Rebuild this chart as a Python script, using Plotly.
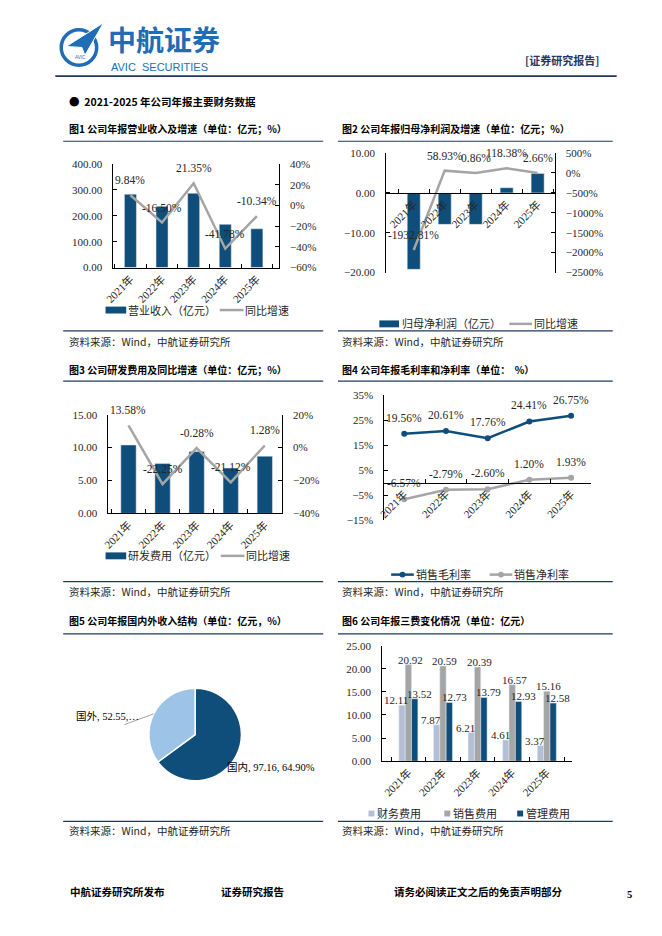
import plotly.graph_objects as go

W, H = 662, 936

# -------------------------------
# Dados
# -------------------------------
years = ["2021年", "2022年", "2023年", "2024年", "2025年"]

revenue = [283.0, 236.3, 286.8, 167.0, 149.7]
revenue_yoy = [9.84, -16.50, 21.35, -41.78, -10.34]

net_profit = [-19.2, -7.9, -7.9, 1.3, 4.9]
net_profit_yoy = [-1932.81, 58.93, 0.86, 118.38, 2.66]

rd_expense = [10.4, 7.6, 9.4, 6.9, 8.7]
rd_yoy = [13.58, -22.25, -0.28, -21.12, 1.28]

gross_margin = [19.56, 20.61, 17.76, 24.41, 26.75]
net_margin = [-6.57, -2.79, -2.60, 1.20, 1.93]

region_labels = ["国内", "国外"]
region_values = [97.16, 52.55]

fin_exp = [12.11, 7.87, 6.21, 4.61, 3.37]
sales_exp = [20.92, 20.59, 20.39, 16.57, 15.16]
admin_exp = [13.52, 12.73, 13.79, 12.93, 12.58]

# cores
DARK = "#0F4E7A"
GRAY = "#A5A5A5"
LIGHT = "#9DC3E6"
PALE = "#B4BFD6"
NAVY = "#1F3864"
BRAND = "#1E6DB6"
TXT = "#262626"

SERIF = "Liberation Serif, Noto Sans CJK SC"
CJK = "Noto Sans CJK SC"


def px(x):
    return x / W


def py(y):
    return 1 - y / H


fig = go.Figure()

# -------------------------------
# Fig 1 - receita e crescimento
# -------------------------------
fig.add_trace(go.Bar(x=years, y=revenue, name="营业收入（亿元）", marker_color=DARK,
                     xaxis="x", yaxis="y", width=0.38))
fig.add_trace(go.Scatter(x=years, y=revenue_yoy, name="同比增速", mode="lines",
                         line=dict(color=GRAY, width=2.5), xaxis="x", yaxis="y2"))

# Fig 2 - lucro líquido
fig.add_trace(go.Bar(x=years, y=net_profit, name="归母净利润（亿元）", marker_color=DARK,
                     xaxis="x2", yaxis="y3", width=0.42))
fig.add_trace(go.Scatter(x=years, y=net_profit_yoy, name="同比增速", mode="lines",
                         line=dict(color=GRAY, width=2.5), xaxis="x2", yaxis="y4"))

# Fig 3 - P&D
fig.add_trace(go.Bar(x=years, y=rd_expense, name="研发费用（亿元）", marker_color=DARK,
                     xaxis="x3", yaxis="y5", width=0.45))
fig.add_trace(go.Scatter(x=years, y=rd_yoy, name="同比增速", mode="lines",
                         line=dict(color=GRAY, width=2.5), xaxis="x3", yaxis="y6"))

# Fig 4 - margens
fig.add_trace(go.Scatter(x=years, y=gross_margin, name="销售毛利率", mode="lines+markers",
                         line=dict(color=DARK, width=2.5), marker=dict(size=6, color=DARK),
                         xaxis="x4", yaxis="y7"))
fig.add_trace(go.Scatter(x=years, y=net_margin, name="销售净利率", mode="lines+markers",
                         line=dict(color=GRAY, width=2.5), marker=dict(size=6, color=GRAY),
                         xaxis="x4", yaxis="y7"))

# Fig 5 - pizza (rótulos como anotações, como no original)
fig.add_trace(go.Pie(labels=region_labels, values=region_values, sort=False, direction="clockwise",
                     marker=dict(colors=[DARK, LIGHT], line=dict(color="white", width=1.5)),
                     textinfo="none",
                     domain=dict(x=[px(141), px(235)], y=[py(785), py(691)]),
                     hoverinfo="label+value+percent"))

# Fig 6 - três despesas (rótulos desenhados depois, por cima das barras)
BARGAP6 = 0.45
series6 = [(fin_exp, "财务费用", PALE), (sales_exp, "销售费用", GRAY), (admin_exp, "管理费用", DARK)]
for vals, nm, col in series6:
    fig.add_trace(go.Bar(x=years, y=vals, name=nm, marker_color=col, xaxis="x5", yaxis="y8"))

fig.update_traces(showlegend=False)

# -------------------------------
# Eixos
# -------------------------------
tickf = dict(family=SERIF, size=11, color=TXT)


def xcat(x0, x1, anchor, position=None):
    d = dict(domain=[px(x0), px(x1)], type="category", showline=True, linecolor="black", linewidth=1,
             ticks="inside", ticklen=4, tickcolor="black", tickson="boundaries", tickangle=-45,
             tickfont=tickf, showgrid=False, zeroline=False, fixedrange=True)
    if position is None:
        d["anchor"] = anchor
    else:
        d["anchor"] = "free"
        d["position"] = position
    return d


def yax(y0, y1, rng, dtick, anchor, fmt=None, suffix="", side="left", overlaying=None):
    d = dict(domain=[py(y1), py(y0)], range=rng, dtick=dtick, tick0=rng[0], anchor=anchor, side=side,
             showline=True, linecolor="black", linewidth=1, ticks="inside", ticklen=4,
             tickcolor="black", tickfont=tickf, showgrid=False, zeroline=False,
             ticksuffix=suffix, ticklabelstandoff=8, fixedrange=True)
    if fmt:
        d["tickformat"] = fmt
    if overlaying:
        d["overlaying"] = overlaying
    return d


def zero_pos(y0, y1, rng):
    b, t = py(y1), py(y0)
    return b + (0 - rng[0]) / (rng[1] - rng[0]) * (t - b)


r2 = [-20, 10]
r4 = [-15, 35]
X6 = (378, 571)

fig.update_layout(
    xaxis=xcat(105, 273, "y"),
    yaxis=yax(160, 265, [0, 400], 100, "x", fmt=".2f"),
    yaxis2=yax(160, 265, [-60, 40], 20, "x", suffix="%", side="right", overlaying="y"),

    xaxis2=xcat(382, 553, None, position=zero_pos(149, 270, r2)),
    yaxis3=yax(149, 270, r2, 10, "x2", fmt=".2f"),
    yaxis4=yax(149, 270, [-2500, 500], 500, "x2", suffix="%", side="right", overlaying="y3"),

    xaxis3=xcat(100, 276, "y5"),
    yaxis5=yax(414, 514, [0, 15], 5, "x3", fmt=".2f"),
    yaxis6=yax(414, 514, [-40, 20], 20, "x3", suffix="%", side="right", overlaying="y5"),

    xaxis4=xcat(380, 590, None, position=zero_pos(394, 521, r4)),
    yaxis7=yax(394, 521, r4, 10, "x4", suffix="%"),

    xaxis5=xcat(X6[0], X6[1], "y8"),
    yaxis8=yax(648, 765, [0, 25], 5, "x5", fmt=".2f"),
)

fig.update_layout(barmode="group", bargap=BARGAP6, bargroupgap=0)

# -------------------------------
# Rótulos de dados
# -------------------------------
ann = []
for ys, xref, yref, shift in [(revenue_yoy, "x", "y2", 15), (net_profit_yoy, "x2", "y4", 15),
                              (rd_yoy, "x3", "y6", 15), (gross_margin, "x4", "y7", 16),
                              (net_margin, "x4", "y7", 16)]:
    for xv, yv in zip(years, ys):
        ann.append(dict(x=xv, y=yv, xref=xref, yref=yref, text=f"{yv:.2f}%", showarrow=False,
                        yshift=shift, font=dict(family=SERIF, size=11.5, color=TXT)))

# rótulos do gráfico de barras agrupadas: centro de cada barra, com leve afastamento lateral
cat_w = (X6[1] - X6[0]) / len(years)
bar_w = cat_w * (1 - BARGAP6) / len(series6)
nudge = [-5, 2, 4]
for k, (vals, nm, col) in enumerate(series6):
    dx = (k - (len(series6) - 1) / 2) * bar_w + nudge[k]
    for xv, yv in zip(years, vals):
        ann.append(dict(x=xv, y=yv, xref="x5", yref="y8", text=f"{yv:.2f}", showarrow=False,
                        xshift=dx, yshift=5, font=dict(family=SERIF, size=11, color=TXT)))


# -------------------------------
# Textos da página
# -------------------------------
def ptext(x, y, text, size=10.5, color="black", family=CJK, anchor="left", bold=False):
    ann.append(dict(x=px(x), y=py(y), xref="paper", yref="paper", text=f"<b>{text}</b>" if bold else text,
                    showarrow=False, xanchor=anchor, yanchor="middle",
                    font=dict(family=family, size=size, color=color)))


ptext(97, 33, "中航证券", size=28, color=BRAND, bold=True)
ptext(101, 62, "AVIC  SECURITIES", size=11, color=BRAND, family="Liberation Sans")
ptext(64, 52, "AVIC", size=4.5, color=BRAND, family="Liberation Sans")
ptext(600, 55, "[证券研究报告]", size=11, color=NAVY, anchor="right", bold=True)
ptext(58, 97, "●  2021-2025 年公司年报主要财务数据", size=10.5, bold=True)

titles = [(58, 124, "图1 公司年报营业收入及增速（单位：亿元；%）"),
          (335, 124, "图2 公司年报归母净利润及增速（单位：亿元；%）"),
          (58, 368, "图3 公司研发费用及同比增速（单位：亿元；%）"),
          (335, 368, "图4 公司年报毛利率和净利率（单位：  %）"),
          (58, 622, "图5 公司年报国内外收入结构（单位：亿元，%）"),
          (335, 622, "图6 公司年报三费变化情况（单位：亿元）")]
for x, y, t in titles:
    ptext(x, y, t, size=10, bold=True)

for x, y in [(58, 340), (335, 340), (58, 593), (335, 593), (58, 835), (335, 835)]:
    ptext(x, y, "资料来源：Wind，中航证券研究所", size=10.5, color=TXT)

ptext(59, 897, "中航证券研究所发布", size=10.5, bold=True)
ptext(212, 897, "证券研究报告", size=10.5, bold=True)
ptext(388, 897, "请务必阅读正文之后的免责声明部分", size=10.5, bold=True)
ptext(624, 900, "5", size=10.5, family="Liberation Serif", bold=True)

# rótulos da pizza
total = sum(region_values)
ptext(218, 771, f"{region_labels[0]}, {region_values[0]:.2f}, {region_values[0] / total * 100:.2f}%",
      size=10.5, family=SERIF)
ptext(133, 720, f"{region_labels[1]}, {region_values[1]:.2f},…", size=10.5, family=SERIF, anchor="right")

# linhas de separação e logotipo
shapes = [dict(type="line", xref="paper", yref="paper", x0=px(46), x1=px(616), y0=py(71), y1=py(71),
               line=dict(color=NAVY, width=1.6))]
for y in [137, 329, 380, 583, 636, 826]:
    for x0, x1 in [(54, 318), (333, 612)]:
        shapes.append(dict(type="line", xref="paper", yref="paper", x0=px(x0), x1=px(x1),
                           y0=py(y), y1=py(y), line=dict(color=NAVY, width=1.2)))
shapes.append(dict(type="line", xref="paper", yref="paper", x0=px(116), x1=px(146), y0=py(728), y1=py(717),
                   line=dict(color="#8C8C8C", width=0.8)))
shapes.append(dict(type="circle", xref="paper", yref="paper", x0=px(52), x1=px(88), y0=py(60), y1=py(24),
                   line=dict(color=BRAND, width=3.5)))
shapes.append(dict(type="path", xref="paper", yref="paper",
                   path=f"M {px(57)},{py(41)} L {px(95)},{py(17)} L {px(76)},{py(50)} L {px(73)},{py(42)} Z",
                   fillcolor=BRAND, line=dict(color="white", width=1)))


# -------------------------------
# Legendas (desenhadas à mão, como no original)
# -------------------------------
def leg_rect(x0, x1, y, h, color, label, tx):
    shapes.append(dict(type="rect", xref="paper", yref="paper", x0=px(x0), x1=px(x1),
                       y0=py(y + h / 2), y1=py(y - h / 2), fillcolor=color, line=dict(width=0)))
    ptext(tx, y, label, size=11, color=TXT, family=SERIF)


def leg_line(x0, x1, y, color, label, tx, marker=False):
    shapes.append(dict(type="line", xref="paper", yref="paper", x0=px(x0), x1=px(x1),
                       y0=py(y), y1=py(y), line=dict(color=color, width=2.5)))
    if marker:
        xc = (x0 + x1) / 2
        shapes.append(dict(type="circle", xref="paper", yref="paper", x0=px(xc - 3), x1=px(xc + 3),
                           y0=py(y + 3), y1=py(y - 3), fillcolor=color, line=dict(width=0)))
    ptext(tx, y, label, size=11, color=TXT, family=SERIF)


leg_rect(97, 118, 308, 7, DARK, "营业收入（亿元）", 118)
leg_line(213, 237, 308, GRAY, "同比增速", 237)

leg_rect(375, 395, 322, 7, DARK, "归母净利润（亿元）", 396)
leg_line(507, 530, 322, GRAY, "同比增速", 530)

leg_rect(97, 118, 557, 7, DARK, "研发费用（亿元）", 118)
leg_line(214, 238, 557, GRAY, "同比增速", 238)

leg_line(387, 410, 576, DARK, "销售毛利率", 410, marker=True)
leg_line(487, 510, 576, GRAY, "销售净利率", 510, marker=True)

for x0, (vals, nm, col) in zip([364, 441, 515], series6):
    leg_rect(x0, x0 + 6, 818, 6, col, nm, x0 + 7)

fig.update_layout(annotations=ann, shapes=shapes)

fig.update_layout(width=W, height=H, margin=dict(l=0, r=0, t=0, b=0),
                  paper_bgcolor="white", plot_bgcolor="rgba(0,0,0,0)")

fig.write_html("out.html", config={"displayModeBar": False},
               post_script="document.body.style.margin='0';document.body.style.overflow='hidden';")
